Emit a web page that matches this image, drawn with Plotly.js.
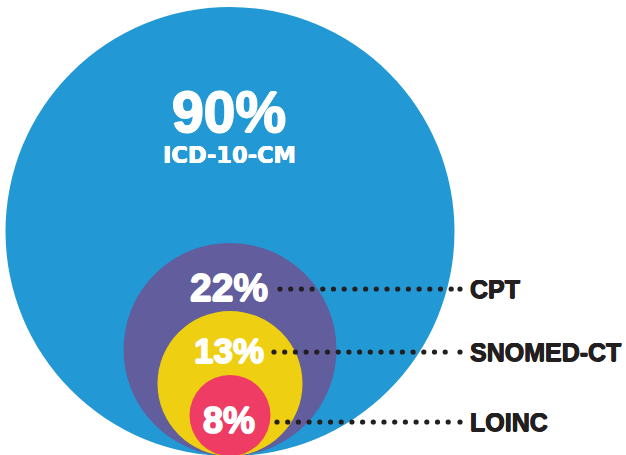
<!DOCTYPE html>
<html>
<head>
<meta charset="utf-8">
<script src="https://cdn.plot.ly/plotly-3.0.1.min.js"></script>
<style>html,body{margin:0;padding:0;background:#fff;}#chart{width:626px;height:455px;}</style>
</head>
<body>
<div id="chart"></div>
<script>
// ---- data ----
const categories = ['ICD-10-CM', 'CPT', 'SNOMED-CT', 'LOINC'];
const percentValues = [90, 22, 13, 8];
const percentLabels = percentValues.map(v => v + '%');

// ---- layout / style (pixel-space design) ----
const colors = ['#2298d5', '#625d9d', '#efcf12', '#ef3c65'];
const radii = [224.5, 106.5, 72.5, 40.5];
const centerX = 230;
const baseY = 456;
const pctFontSizes = [57, 39, 35, 36];
const pctY = [112, 287, 350, 420];
const leaderStartX = [null, 280, 274, 277];
const leaderEndX = 460;
const labelX = 468;
const dark = '#231f20';

function thicken(c, w) {
  return [w + 'px 0 ' + c, '-' + w + 'px 0 ' + c, '0 ' + w + 'px ' + c, '0 -' + w + 'px ' + c].join(', ');
}

const shapes = radii.map((r, i) => ({
  type: 'circle', xref: 'x', yref: 'y', layer: 'below',
  x0: centerX - r, x1: centerX + r,
  y0: baseY - 2 * r, y1: baseY,
  fillcolor: colors[i], line: {width: 0}
}));

const annotations = [];
percentLabels.forEach((t, i) => {
  annotations.push({
    x: centerX - 1, y: pctY[i], xref: 'x', yref: 'y', text: t, showarrow: false,
    xanchor: 'center', yanchor: 'middle',
    font: {family: 'Liberation Sans, Arial, sans-serif', size: pctFontSizes[i], color: '#ffffff', weight: 700,
           shadow: thicken('#ffffff', i === 0 ? 0.9 : 0.7)}
  });
});
annotations.push({
  x: centerX - 0.5, y: 155, xref: 'x', yref: 'y', text: categories[0], showarrow: false,
  xanchor: 'center', yanchor: 'middle',
  font: {family: 'DejaVu Sans, sans-serif', size: 22.5, color: '#ffffff', weight: 700,
         shadow: thicken('#ffffff', 0.3)}
});
for (let i = 1; i < categories.length; i++) {
  annotations.push({
    x: labelX, y: pctY[i] + 2, xref: 'x', yref: 'y', text: categories[i], showarrow: false,
    xanchor: 'left', yanchor: 'middle',
    font: {family: 'Liberation Sans, Arial, sans-serif', size: 25, color: dark, weight: 700,
           shadow: thicken(dark, 0.5)}
  });
}

// leader dots (decorative)
const traces = [];
for (let i = 1; i < categories.length; i++) {
  const xs = [], ys = [];
  const y = pctY[i] + 2;
  const step = 10.7;
  for (let x = leaderStartX[i]; x <= leaderEndX - 7; x += step) { xs.push(x); ys.push(y); }
  xs.push(leaderEndX); ys.push(y);
  traces.push({
    type: 'scatter', mode: 'markers', x: xs, y: ys, hoverinfo: 'skip',
    marker: {size: 5.2, color: dark, line: {width: 0}}, showlegend: false
  });
}

const layout = {
  width: 626, height: 455,
  margin: {l: 0, r: 0, t: 0, b: 0, pad: 0},
  paper_bgcolor: '#ffffff', plot_bgcolor: '#ffffff',
  xaxis: {range: [0, 626], visible: false, fixedrange: true},
  yaxis: {range: [455, 0], visible: false, fixedrange: true},
  shapes: shapes,
  annotations: annotations,
  showlegend: false
};

Plotly.newPlot('chart', traces, layout, {displayModeBar: false, staticPlot: true});
</script>
</body>
</html>
